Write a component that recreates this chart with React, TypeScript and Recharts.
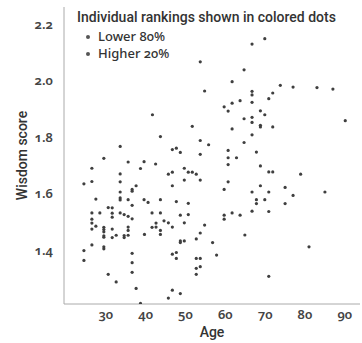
import { ScatterChart, Scatter, XAxis, YAxis, Legend } from 'recharts'

const title = 'Individual rankings shown in colored dots'
const legendLabels = ['Lower 80%', 'Higher 20%']
const xTicks = [30, 40, 50, 60, 70, 80, 90]
const yTicks = [1.4, 1.6, 1.8, 2.0, 2.2]

// age of each respondent
const ages = [
  41.7, 43.7, 33.6, 29.5, 35.6, 39.6, 42.5, 26.5, 38.7, 33.6, 24.5, 26.5, 33.6, 37.6, 36.6, 36.6, 33.6,
  27.5, 33.6, 33.6, 35.6, 39.6, 40.6, 43.7, 36.6, 30.6, 31.6, 26.5, 28.5, 31.6, 33.6, 34.6, 35.6, 36.6,
  31.6, 41.6, 43.7, 26.5, 26.5, 26.5, 27.5, 29.5, 29.5, 29.5, 31.6, 35.6, 35.6, 42.6, 41.6, 42.6, 43.7,
  43.7, 29.5, 29.5, 31.6, 32.6, 34.6, 34.6, 35.6, 39.7, 26.5, 29.5, 29.5, 24.5, 36.6, 24.5, 36.6, 36.6,
  30.6, 32.6, 37.6, 38.7,
  66.7, 53.7, 64.7, 61.7, 54.8, 66.7, 66.7, 63.7, 61.7, 66.7, 59.7, 60.7, 64.7, 66.7, 66.7, 51.7, 61.7,
  66.7, 53.7, 55.8, 64.7, 46.7, 47.7, 48.7, 53.7, 60.7, 60.7, 62.8,
  60.7, 49.7, 45.7, 46.7, 50.7, 51.7, 52.7, 49.7, 53.7, 46.7, 60.7, 59.7, 66.7, 66.7, 47.7, 50.7, 48.7,
  50.7, 59.7, 59.7, 61.7, 63.7, 44.6, 45.7, 46.7, 49.7, 54.8, 53.7, 52.7, 48.7, 48.7, 49.7, 56.8, 64.9,
  46.7, 47.7, 47.7, 57.8, 52.7, 53.7, 52.7, 53.7, 52.7, 46.7, 45.7, 48.7,
  69.9, 73.8, 77.0, 83.0, 87.0, 71.9, 70.9, 68.8, 69.9, 68.8, 68.8, 71.9, 90.1, 67.8, 68.8, 70.9, 71.9,
  78.9, 68.8, 70.9, 75.0, 77.0, 85.0, 67.8, 67.8, 69.9, 75.0, 70.9, 81.0, 70.9,
]

// wisdom score, same order as ages
const scores = [
  1.879, 1.802, 1.767, 1.725, 1.712, 1.713, 1.705, 1.69, 1.689, 1.67, 1.635, 1.643, 1.642, 1.628, 1.615, 1.609, 1.606,
  1.581, 1.585, 1.578, 1.579, 1.579, 1.569, 1.579, 1.559, 1.551, 1.55, 1.532, 1.532, 1.531, 1.532, 1.526, 1.52, 1.511,
  1.517, 1.532, 1.532, 1.51, 1.496, 1.475, 1.485, 1.481, 1.473, 1.465, 1.475, 1.482, 1.47, 1.496, 1.481, 1.482, 1.47,
  1.456, 1.451, 1.446, 1.445, 1.453, 1.452, 1.445, 1.453, 1.456, 1.419, 1.412, 1.405, 1.399, 1.389, 1.364, 1.356, 1.322,
  1.315, 1.288, 1.265, 1.212,
  2.129, 2.066, 2.038, 1.996, 1.963, 1.962, 1.949, 1.929, 1.92, 1.923, 1.907, 1.892, 1.865, 1.87, 1.852, 1.838, 1.829,
  1.808, 1.788, 1.773, 1.781, 1.756, 1.761, 1.746, 1.739, 1.753, 1.727, 1.727,
  1.703, 1.69, 1.669, 1.676, 1.676, 1.676, 1.669, 1.648, 1.648, 1.628, 1.642, 1.615, 1.606, 1.538, 1.572, 1.566, 1.524,
  1.526, 1.524, 1.51, 1.532, 1.524, 1.504, 1.497, 1.482, 1.497, 1.489, 1.461, 1.44, 1.433, 1.427, 1.433, 1.427, 1.454,
  1.386, 1.392, 1.371, 1.383, 1.371, 1.371, 1.336, 1.342, 1.315, 1.259, 1.231, 1.247,
  2.148, 1.983, 1.977, 1.975, 1.97, 1.956, 1.936, 1.893, 1.879, 1.842, 1.836, 1.836, 1.858, 1.747, 1.698, 1.677, 1.677,
  1.669, 1.628, 1.606, 1.622, 1.594, 1.606, 1.579, 1.565, 1.579, 1.565, 1.537, 1.412, 1.308,
]

const points = ages.map((age, i) => ({ age, score: scores[i] }))

const textFont = "'Roboto', 'Noto Sans', sans-serif"
const numFont = "'Noto Sans', sans-serif"
const tickStyle = {
  fill: '#444',
  fontSize: 13,
  fontWeight: 600,
  fontFamily: numFont,
  style: { fontVariantNumeric: 'oldstyle-nums' },
}
const axisLabel = { fill: '#333', fontSize: 14, fontWeight: 500, fontFamily: textFont }

function ChartKey() {
  return (
    <div style={{ color: '#333', textAlign: 'left' }}>
      <div style={{ fontFamily: textFont, fontSize: 14, fontWeight: 500, lineHeight: '21px', whiteSpace: 'nowrap' }}>
        {title}
      </div>
      {legendLabels.map((label) => (
        <div
          key={label}
          style={{
            display: 'flex',
            alignItems: 'center',
            fontFamily: numFont,
            fontVariantNumeric: 'oldstyle-nums',
            fontSize: 13,
            fontWeight: 500,
            lineHeight: '17px',
          }}
        >
          <span style={{ width: 4, height: 4, borderRadius: 2, background: '#555', marginLeft: 9, marginRight: 8 }} />
          {label}
        </div>
      ))}
    </div>
  )
}

export default function App() {
  return (
    <div style={{ position: 'absolute', left: 0, top: 0, background: '#fff' }}>
      <ScatterChart width={362} height={343} margin={{ top: 7, right: 2, bottom: 0, left: 0 }}>
        <XAxis
          type="number"
          dataKey="age"
          domain={[19.5, 93.8]}
          ticks={xTicks}
          allowDataOverflow
          height={39}
          axisLine={{ stroke: '#aaa' }}
          tickLine={false}
          tickSize={6}
          tickMargin={0}
          tick={tickStyle}
          label={{ value: 'Age', position: 'insideBottom', offset: 6, ...axisLabel }}
        />
        <YAxis
          type="number"
          dataKey="score"
          domain={[1.21, 2.26]}
          ticks={yTicks}
          allowDataOverflow
          width={64}
          axisLine={{ stroke: '#aaa' }}
          tickLine={false}
          tickSize={6}
          tickMargin={5}
          tick={tickStyle}
          tickFormatter={(v: number) => v.toFixed(1)}
          label={{ value: 'Wisdom score', angle: -90, position: 'center', dx: -10, ...axisLabel }}
        />
        <Legend
          layout="vertical"
          align="center"
          verticalAlign="middle"
          wrapperStyle={{ left: 77, top: 7, width: 285, height: 60 }}
          content={<ChartKey />}
        />
        <Scatter
          name={legendLabels[0]}
          data={points}
          isAnimationActive={false}
          shape={(p: { cx?: number; cy?: number }) => <circle cx={p.cx} cy={p.cy} r={1.6} fill="#3f3f3f" />}
        />
      </ScatterChart>
    </div>
  )
}
